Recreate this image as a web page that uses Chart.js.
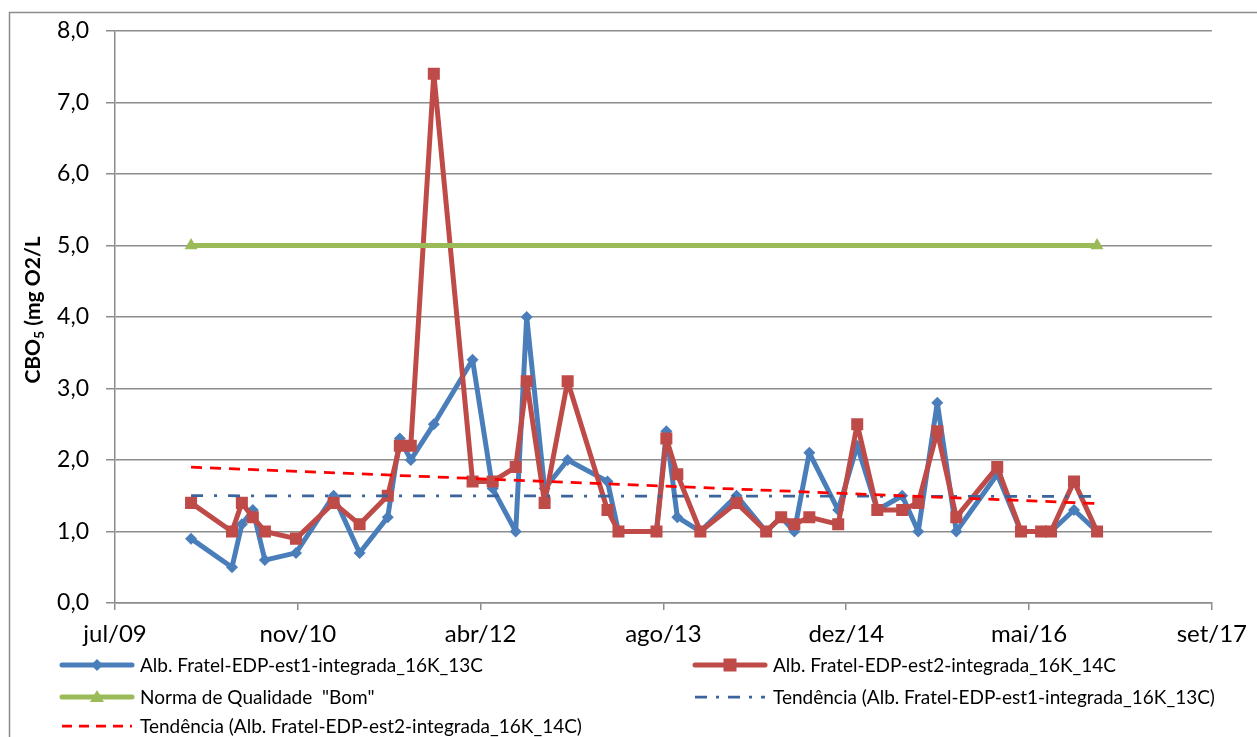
<!DOCTYPE html>
<html>
<head>
<meta charset="utf-8">
<script src="https://cdn.jsdelivr.net/npm/chart.js@4.4.0/dist/chart.umd.min.js"></script>
<style>
  html, body { margin: 0; padding: 0; background: #fff; }
  #wrap { width: 1257px; height: 737px; }
</style>
</head>
<body>
<div id="wrap"><canvas id="myChart" width="1257" height="737"></canvas></div>
<script>
// sampling dates (both stations sampled on the same days)
const sampleDates = [
  '2010-01-30', '2010-05-22', '2010-06-18', '2010-07-18', '2010-08-20', '2010-11-13',
  '2011-02-24', '2011-05-06', '2011-07-22', '2011-08-24', '2011-09-23', '2011-11-25',
  '2012-03-10', '2012-05-04', '2012-07-06', '2012-08-05', '2012-09-23', '2012-11-25',
  '2013-03-14', '2013-04-13', '2013-07-26', '2013-08-22', '2013-09-21', '2013-11-23',
  '2014-03-02', '2014-05-22', '2014-07-02', '2014-08-07', '2014-09-17', '2014-12-05',
  '2015-01-26', '2015-03-22', '2015-05-29', '2015-07-12', '2015-09-02', '2015-10-24',
  '2016-02-13', '2016-04-18', '2016-06-12', '2016-07-09', '2016-09-10', '2016-11-12'
];
const est1Values = [
  0.9, 0.5, 1.1, 1.3, 0.6, 0.7,
  1.5, 0.7, 1.2, 2.3, 2.0, 2.5,
  3.4, 1.6, 1.0, 4.0, 1.6, 2.0,
  1.7, 1.0, 1.0, 2.4, 1.2, 1.0,
  1.5, 1.0, 1.2, 1.0, 2.1, 1.3,
  2.2, 1.3, 1.5, 1.0, 2.8, 1.0,
  1.8, 1.0, 1.0, 1.0, 1.3, 1.0
];
const est2Values = [
  1.4, 1.0, 1.4, 1.2, 1.0, 0.9,
  1.4, 1.1, 1.5, 2.2, 2.2, 7.4,
  1.7, 1.7, 1.9, 3.1, 1.4, 3.1,
  1.3, 1.0, 1.0, 2.3, 1.8, 1.0,
  1.4, 1.0, 1.2, 1.1, 1.2, 1.1,
  2.5, 1.3, 1.3, 1.4, 2.4, 1.2,
  1.9, 1.0, 1.0, 1.0, 1.7, 1.0
];
const normaBom = [5.0, 5.0];
const trend1Values = [1.50, 1.49];   // Excel linear trend, est1 (start, end)
const trend2Values = [1.90, 1.39];   // Excel linear trend, est2 (start, end)

const xTickLabels = ['jul/09', 'nov/10', 'abr/12', 'ago/13', 'dez/14', 'mai/16', 'set/17'];
const seriesNames = [
  'Alb. Fratel-EDP-est1-integrada_16K_13C',
  'Alb. Fratel-EDP-est2-integrada_16K_14C',
  'Norma de Qualidade  "Bom"',
  'Tendência (Alb. Fratel-EDP-est1-integrada_16K_13C)',
  'Tendência (Alb. Fratel-EDP-est2-integrada_16K_14C)'
];

// excel-style day serial
function toSerial(s) {
  const p = s.split('-').map(Number);
  return Date.UTC(p[0], p[1] - 1, p[2]) / 86400000 + 25569;
}
const xs = sampleDates.map(toSerial);
const xEnds = [xs[0], xs[xs.length - 1]];

const FONT = 'Lato, "Open Sans", sans-serif';
const BLUE = '#4a7ebb', RED = '#be4b48', GREEN = '#9bbb59', TBLUE = '#3b649c', TRED = '#ff0000';
const GRID = '#8c8c8c';

const pts = (xArr, yArr) => yArr.map((v, i) => ({ x: xArr[i], y: v }));

// y title with the subscript, plus legend and outer frame
const extras = {
  id: 'extras',
  afterDraw(chart) {
    const ctx = chart.ctx;
    ctx.save();
    ctx.strokeStyle = GRID;
    ctx.lineWidth = 1.5;
    ctx.strokeRect(9.5, 12.5, 1400, 900);

    // y axis title
    ctx.save();
    ctx.translate(33, 310);
    ctx.rotate(-Math.PI / 2);
    ctx.fillStyle = '#000';
    ctx.textBaseline = 'middle';
    const big = 'bold 21px ' + FONT, small = 'bold 14px ' + FONT;
    ctx.font = big; const w1 = ctx.measureText('CBO').width;
    ctx.font = small; const w2 = ctx.measureText('5').width;
    ctx.font = big; const w3 = ctx.measureText(' (mg O2/L').width;
    let x = -(w1 + w2 + w3) / 2;
    ctx.font = big; ctx.fillText('CBO', x, 0); x += w1;
    ctx.font = small; ctx.fillText('5', x, 6); x += w2;
    ctx.font = big; ctx.fillText(' (mg O2/L', x, 0);
    ctx.restore();

    // legend
    const items = [
      { i: 0, x: 62, y: 665, color: BLUE, marker: 'diamond' },
      { i: 1, x: 695, y: 665, color: RED, marker: 'square' },
      { i: 2, x: 62, y: 697, color: GREEN, marker: 'triangle' },
      { i: 3, x: 695, y: 697, color: TBLUE, dash: [12, 9, 3, 9] },
      { i: 4, x: 62, y: 726, color: TRED, dash: [10, 7] }
    ];
    items.forEach(it => {
      const x0 = it.x, x1 = it.x + 70, cx = (x0 + x1) / 2, y = it.y;
      ctx.strokeStyle = it.color;
      ctx.fillStyle = it.color;
      if (it.dash) {
        ctx.setLineDash(it.dash);
        ctx.lineWidth = 2.75;
        ctx.lineCap = 'butt';
      } else {
        ctx.setLineDash([]);
        ctx.lineWidth = 5;
        ctx.lineCap = 'round';
      }
      ctx.beginPath(); ctx.moveTo(x0, y); ctx.lineTo(x1, y); ctx.stroke();
      ctx.setLineDash([]);
      ctx.beginPath();
      if (it.marker === 'diamond') {
        ctx.moveTo(cx, y - 6); ctx.lineTo(cx + 6, y); ctx.lineTo(cx, y + 6); ctx.lineTo(cx - 6, y);
      } else if (it.marker === 'square') {
        ctx.rect(cx - 6.5, y - 6.5, 13, 13);
      } else if (it.marker === 'triangle') {
        ctx.moveTo(cx, y - 7); ctx.lineTo(cx + 7, y + 5); ctx.lineTo(cx - 7, y + 5);
      }
      ctx.closePath(); ctx.fill();
      ctx.fillStyle = '#000';
      ctx.font = '19px ' + FONT;
      ctx.textBaseline = 'middle';
      ctx.fillText(seriesNames[it.i], x1 + 8, y + 1);
    });
    ctx.restore();
  }
};

new Chart(document.getElementById('myChart'), {
  type: 'line',
  data: {
    datasets: [
      {
        label: seriesNames[0], data: pts(xs, est1Values), order: 4,
        borderColor: BLUE, backgroundColor: BLUE, borderWidth: 5,
        pointStyle: 'rectRot', pointRadius: 6, pointBorderWidth: 0,
        borderJoinStyle: 'round', borderCapStyle: 'round'
      },
      {
        label: seriesNames[1], data: pts(xs, est2Values), order: 3,
        borderColor: RED, backgroundColor: RED, borderWidth: 5,
        pointStyle: 'rect', pointRadius: 8.5, pointBorderWidth: 0,
        borderJoinStyle: 'round', borderCapStyle: 'round'
      },
      {
        label: seriesNames[2], data: pts(xEnds, normaBom), order: 2,
        borderColor: GREEN, backgroundColor: GREEN, borderWidth: 5,
        pointStyle: 'triangle', pointRadius: 7.5, pointBorderWidth: 0
      },
      {
        label: seriesNames[3], data: pts(xEnds, trend1Values), order: 1,
        borderColor: TBLUE, borderWidth: 2.75, borderDash: [12, 11, 3, 11],
        pointRadius: 0
      },
      {
        label: seriesNames[4], data: pts(xEnds, trend2Values), order: 0,
        borderColor: TRED, borderWidth: 2.75, borderDash: [11, 8],
        pointRadius: 0
      }
    ]
  },
  options: {
    responsive: false,
    animation: false,
    layout: { padding: { left: 0, right: 44, top: 28, bottom: 0 } },
    plugins: { legend: { display: false }, tooltip: { enabled: false } },
    scales: {
      x: {
        type: 'linear', min: 40000, max: 43000,
        afterFit: s => { s.height = 134; },
        ticks: {
          stepSize: 500, autoSkip: false, maxRotation: 0, padding: 10,
          color: '#000', font: { family: FONT, size: 24 },
          callback: (v, i) => xTickLabels[i]
        },
        grid: { drawOnChartArea: false, drawTicks: true, tickLength: 7, color: GRID, lineWidth: 1.5 },
        border: { color: GRID, width: 1.5 }
      },
      y: {
        min: 0, max: 8,
        afterFit: s => { s.width = 115; },
        ticks: {
          stepSize: 1, padding: 17, color: '#000', font: { family: FONT, size: 23 },
          callback: v => v.toFixed(1).replace('.', ',')
        },
        grid: { color: GRID, lineWidth: 1.5, tickLength: 9 },
        border: { color: GRID, width: 1.5 }
      }
    }
  },
  plugins: [extras]
});
</script>
</body>
</html>
